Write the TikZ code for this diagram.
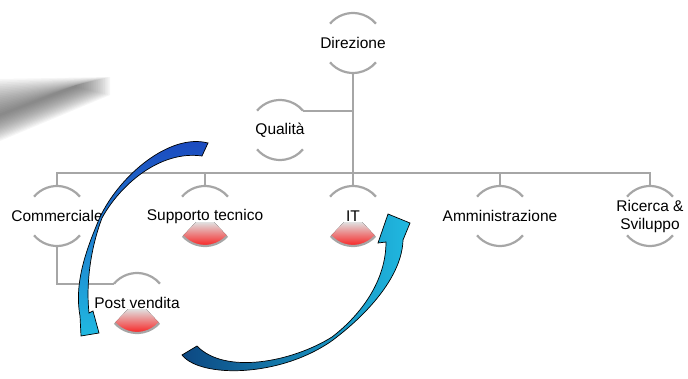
\documentclass[tikz,border=0pt]{standalone}
\usepackage{fontspec}
\setmainfont{Liberation Sans}
\usetikzlibrary{positioning, backgrounds}
\definecolor{linegray}{RGB}{166,166,166}
\definecolor{wedgered}{RGB}{250,20,20}
\definecolor{flownavy}{RGB}{12,72,130}
\definecolor{flowblue}{RGB}{28,70,190}
\definecolor{flowcyan}{RGB}{32,185,225}

\begin{document}
\begin{tikzpicture}[
  x=1pt, y=1pt,
  font=\fontsize{15.5}{18}\selectfont,
  unit/.style={circle, minimum size=60pt, inner sep=0pt, outer sep=0pt},
  every label/.style={inner sep=0pt, align=center},
  branch/.style={draw=linegray, line width=2.2pt},
  rim/.style={draw=linegray, line width=2.2pt},
  wedge/.style={top color=black!12, bottom color=wedgered},
  flow/.style={draw=black, line width=0.7pt}
]
\useasboundingbox (0,0) rectangle (688,378);

% SHADOW
\foreach \k in {0,...,19} {
  \pgfmathsetmacro\f{\k/20}
  \fill[black!70, opacity=0.05] (0,{263+36*(1-\f)}) -- ({110-35*\f},{293+8*(1-\f)})
    -- ({110-35*\f},{291-8*(1-\f)}) -- (0,{263-26*(1-\f)}) -- cycle;
}

% UNITS
\node[unit, label={center:Direzione}] (dir) at (353,335) {};
\node[unit, label={center:Qualità}] (qual) at (280,248) {};
\node[unit, label={center:IT}] (it) at (353,162) {};
\node[unit, left=88pt of it, label={center:Supporto tecnico}] (supp) {};
\node[unit, left=88pt of supp, label={center:Commerciale}] (comm) {};
\node[unit, right=87pt of it, label={center:Amministrazione}] (amm) {};
\node[unit, right=90pt of amm, label={center:Ricerca \&\\Sviluppo}] (ric) {};
\node[unit, label={center:Post vendita}] (post) at (137,75) {};

% LINKS
\coordinate (bus) at (353,205);
\draw[branch] (dir.south) -- (it.north);
\draw[branch] (qual.40) -- (qual.40 -| dir.south);
\draw[branch] (comm.north) |- (bus) -| (ric.north);
\foreach \n in {supp, amm}
  \draw[branch] (\n.north) -- (\n.north |- bus);
\draw[branch] (comm.south) |- (post.140);

% RIMS
\foreach \n in {dir, qual, comm, supp, it, amm, ric, post}
  \draw[rim] (\n.140) arc[start angle=140, end angle=40, radius=30pt];
\foreach \n in {dir, qual, comm, amm, ric}
  \draw[rim] (\n.220) arc[start angle=220, end angle=320, radius=30pt];
\begin{scope}[on background layer]
  \foreach \n in {supp, it, post}
    \fill[wedge] ([shift={(-9,-6)}]\n.center) -- (\n.222) arc[start angle=222, end angle=318, radius=30pt]
      -- ([shift={(9,-6)}]\n.center) -- cycle;
\end{scope}
\foreach \n in {supp, it, post}
  \draw[rim] (\n.222) arc[start angle=222, end angle=318, radius=30pt];

% FLOW ARROWS
\draw[flow, top color=flowblue, bottom color=flowcyan]
  (208,235) .. controls (170,245) and (120,203) .. (100,161)
  .. controls (86,128) and (74,95) .. (80,62) -- (81,42) -- (99,45) -- (93,67) -- (89,65)
  .. controls (86,93) and (90,128) .. (102,160)
  .. controls (120,193) and (160,228) .. (202,222) -- cycle;
\draw[flow, left color=flownavy, middle color=flowblue, right color=flowcyan]
  (182,23) .. controls (200,0) and (280,0) .. (333,38)
  .. controls (370,66) and (402,103) .. (403,138) -- (410,155) -- (388,164) -- (378,135) -- (386,136)
  .. controls (386,98) and (362,64) .. (332,41)
  .. controls (292,16) and (225,3) .. (197,32) -- cycle;

\end{tikzpicture}
\end{document}
